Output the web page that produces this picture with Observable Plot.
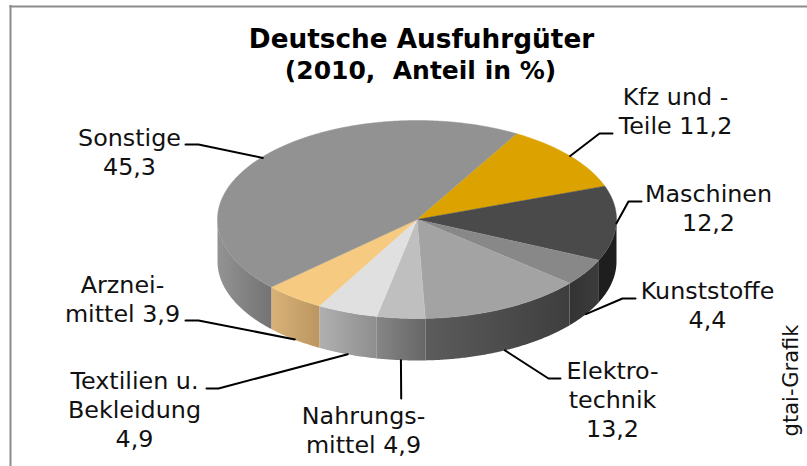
<!DOCTYPE html>
<html lang="de">
<head>
<meta charset="utf-8">
<style>html,body{margin:0;padding:0;background:#fff}svg{display:block}</style>
<script src="https://cdn.jsdelivr.net/npm/d3@7"></script>
<script src="https://cdn.jsdelivr.net/npm/@observablehq/plot@0.6"></script>
</head>
<body>
<script>
// Data, clockwise from the Kfz slice. Shares are the sizes of the slices as drawn;
// the printed labels are kept verbatim (the picture's Nahrung and Arznei slices differ from their labels).
const categories = ["Kfz","Maschinen","Kunststoffe","Elektrotechnik","Nahrungsmittel","Textilien","Arzneimittel","Sonstige"];
const shares = [11.2,12.2,4.4,13.2,3.9,4.9,4.9,45.3];
const labels = ["Kfz und -\nTeile 11,2","Maschinen\n12,2","Kunststoffe\n4,4","Elektro-\ntechnik\n13,2","Nahrungs-\nmittel 4,9","Textilien u.\nBekleidung\n4,9","Arznei-\nmittel 3,9","Sonstige\n45,3"];
const topColors = ["#dca300","#4a4a4a","#888888","#a3a3a3","#bfbfbf","#e0e0e0","#f6ca80","#929292"];
const wallLeft = ["#000","#1e1e1e","#333333","#5c5c5c","#868686","#b0b0b0","#d8b278","#939393"];
const wallRight = ["#000","#1e1e1e","#3c3c3c","#3e3e3e","#666666","#8e8e8e","#bb9660","#737373"];
const title = ["Deutsche Ausfuhrgüter","(2010,\u00a0\u00a0Anteil in %)"];
const credit = "gtai-Grafik";

// Layout
const W = 807, H = 466;
const cx = 416.5, cy = 219, rx = 199.5, ry = 99, depth = 42, startDeg = 30;
const fontBody = "DejaVu Sans";
const labelSize = 23.8, lineEm = 1.22;
const titleSizes = [26.3, 25];
const textCx = [675,708,707,612,363,134,122,129];
const textBase = [104,201,298,378,423,388,292,145];
const onWall = [false,false,true,true,true,true,true,false];
const anchorNudge = [0,0,0,0,0,0.5,1,2];
const elbowX = [599,628,622,548,400.7,218,198,198];
const elbowY = [133,201,298,378,398,388,320,144];
const stubX = [612,641,635,560,400.7,206,185,185];

const rad = d => d * Math.PI / 180;
const px = a => cx + rx * Math.sin(rad(a));
const py = a => cy - ry * Math.cos(rad(a));
const arc = (a0, a1) => {
  const n = Math.max(1, Math.ceil(Math.abs(a1 - a0) * 2));
  return d3.range(n + 1).map(i => a0 + (a1 - a0) * i / n);
};

const total = d3.sum(shares);
const ends = Array.from(d3.cumsum(shares), v => startDeg + v / total * 360);
const slices = categories.map((name, i) => ({
  name, i, a0: i ? ends[i - 1] : startDeg, a1: ends[i]
}));

// Visible wall: the part of each slice on the front half of the ellipse
const wallPolys = slices.map(s => {
  const a0 = Math.max(s.a0, 90), a1 = Math.min(s.a1, 270);
  if (a1 <= a0) return null;
  const as = arc(a0, a1);
  const pts = [...as.map(a => ({x: px(a), y: py(a)})),
               ...as.slice().reverse().map(a => ({x: px(a), y: py(a) + depth}))];
  return {i: s.i, pts};
}).filter(Boolean);

const topPolys = slices.map(s => ({
  i: s.i,
  pts: [{x: cx, y: cy}, ...arc(s.a0, s.a1).map(a => ({x: px(a), y: py(a)}))]
}));

const leaders = slices.map(s => {
  const m = (s.a0 + s.a1) / 2, i = s.i;
  return [
    {x: px(m) + anchorNudge[i], y: py(m) + (onWall[i] ? depth : 0), i},
    {x: elbowX[i], y: elbowY[i], i},
    {x: stubX[i], y: elbowY[i], i}
  ];
}).flat();

// Plot's lineAnchor "top" offsets the first baseline by 0.71 line heights
const labelRows = labels.map((text, i) => ({text, x: textCx[i], y: textBase[i] - 0.71 * lineEm * labelSize}));
const titleRows = title.map((text, i) => ({text, x: i ? 420 : 421, y: i ? 61 : 29, size: titleSizes[i]}));

const gradients = () => {
  const defs = d3.create("svg:defs");
  categories.forEach((_, i) => {
    const g = defs.append("linearGradient").attr("id", "wall" + i);
    g.append("stop").attr("offset", "0").attr("stop-color", wallLeft[i]);
    g.append("stop").attr("offset", "1").attr("stop-color", wallRight[i]);
  });
  return defs.node();
};

const chart = Plot.plot({
  width: W, height: H,
  margin: 0,
  x: {domain: [0, W], range: [0, W], axis: null},
  y: {domain: [0, H], range: [0, H], axis: null},
  style: {background: "#fff", fontFamily: fontBody},
  marks: [
    gradients,
    Plot.ruleY([6], {x1: 9.5, x2: W, stroke: "#8c8c8c", strokeWidth: 2}),
    Plot.ruleX([10], {y1: 5, y2: H, stroke: "#8c8c8c", strokeWidth: 2}),
    ...wallPolys.map(w => Plot.line(w.pts, {x: "x", y: "y", fill: `url(#wall${w.i})`, stroke: "none"})),
    ...topPolys.map(t => Plot.line(t.pts, {x: "x", y: "y", fill: topColors[t.i], stroke: topColors[t.i], strokeWidth: 0.5})),
    Plot.line(leaders, {x: "x", y: "y", z: "i", stroke: "#000", strokeWidth: 2, curve: "linear"}),
    Plot.text(labelRows, {x: "x", y: "y", text: "text", textAnchor: "middle", lineAnchor: "top", lineHeight: lineEm, fontSize: labelSize, fill: "#111"}),
    ...titleRows.map(t => Plot.text([t], {x: "x", y: "y", text: "text", textAnchor: "middle", lineAnchor: "top", fontSize: t.size, fontWeight: "bold", fill: "#000"})),
    Plot.text([credit], {x: [797], y: [380], text: d => d, rotate: -90, textAnchor: "middle", lineAnchor: "bottom", fontSize: 21, fill: "#111"})
  ]
});
document.body.appendChild(chart);
</script>
</body>
</html>
